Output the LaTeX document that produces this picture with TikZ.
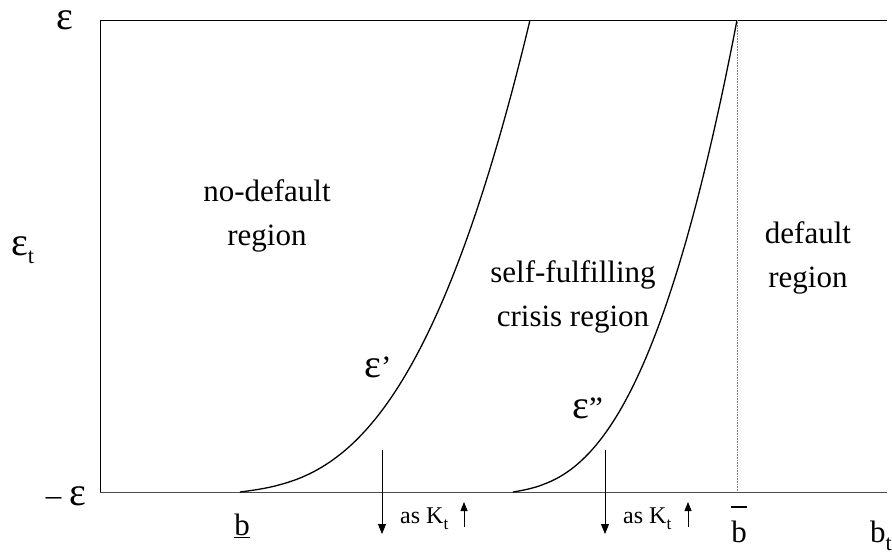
\documentclass[tikz,border=0pt]{standalone}
\usepackage{fontspec}
\setmainfont{Liberation Serif}
\usetikzlibrary{arrows.meta}
\newcommand{\subt}[1]{\raisebox{-0.28em}{\fontsize{0.72em}{0.72em}\selectfont #1}}
\newcommand{\veps}{{\fontsize{40}{40}\selectfont ε}}
\begin{document}
\begin{tikzpicture}[x=1pt,y=-1pt,
  big/.style={font=\fontsize{31}{44}\selectfont, inner sep=0, align=center},
  mid/.style={font=\fontsize{24}{26}\selectfont, inner sep=0},
  curve/.style={line width=1.3pt},
  downarr/.style={line width=0.8pt, -{Triangle[length=10pt,width=8pt]}},
  uparr/.style={line width=0.8pt, -{Triangle[length=9pt,width=7pt]}}]
\useasboundingbox (0,0) rectangle (892,552);
% frame
\draw[line width=1pt] (887,20) -- (100,20) -- (100,492);
\draw[line width=1pt, black!70] (100,492) -- (887,492);
\draw[densely dotted, black!50, line width=0.6pt] (737,20) -- (737,492);
% curves
\draw[curve] (240,492) -- plot[domain=0.002:1, samples=100, variable=\s] ({240+290*\s}, {492-472*(0.08*\s+0.92*(\s)^2.7)});
\draw[curve] (513,492) -- plot[domain=0.002:1, samples=100, variable=\s] ({513+224*\s}, {492-472*(0.08*\s+0.92*(\s)^2.6)});
% labels
\node[big, anchor=base, text height=18pt, text depth=0pt] (etop) at (65,29) {\veps};
\node[big, anchor=base west] (et) at (11,255) {\veps\subt{t}};
\node[big, anchor=base east] (meps) at (86,505) {– \veps};
\node[big] (nd) at (267,216) {no-default\\region};
\node[big] (sf) at (573,297) {self-fulfilling\\crisis region};
\node[big] (dr) at (808,258) {default\\region};
\node[big, anchor=base west] (e1) at (364,377) {\veps’};
\node[big, anchor=base west] (e2) at (572,418) {\veps”};
\node[big, anchor=base] (bl) at (242,535) {\underline{b}};
\node[big, anchor=base] (bh) at (739,542) {b};
\draw[line width=1.2pt] (731,507) -- (747,507);
\node[big, anchor=base west] (bt) at (870,542) {b\subt{t}};
% arrows
\coordinate (a1s) at (382,450); \coordinate (a1e) at (382,534);
\coordinate (u1s) at (464,527); \coordinate (u1e) at (464,502);
\coordinate (a2s) at (605,450); \coordinate (a2e) at (605,534);
\coordinate (u2s) at (688,527); \coordinate (u2e) at (688,502);
\draw[downarr] (a1s) -- (a1e);
\draw[uparr] (u1s) -- (u1e);
\draw[downarr] (a2s) -- (a2e);
\draw[uparr] (u2s) -- (u2e);
\node[mid, anchor=base west] (k1) at (400,523) {as K\subt{t}};
\node[mid, anchor=base west] (k2) at (623,523) {as K\subt{t}};
\end{tikzpicture}
\end{document}
